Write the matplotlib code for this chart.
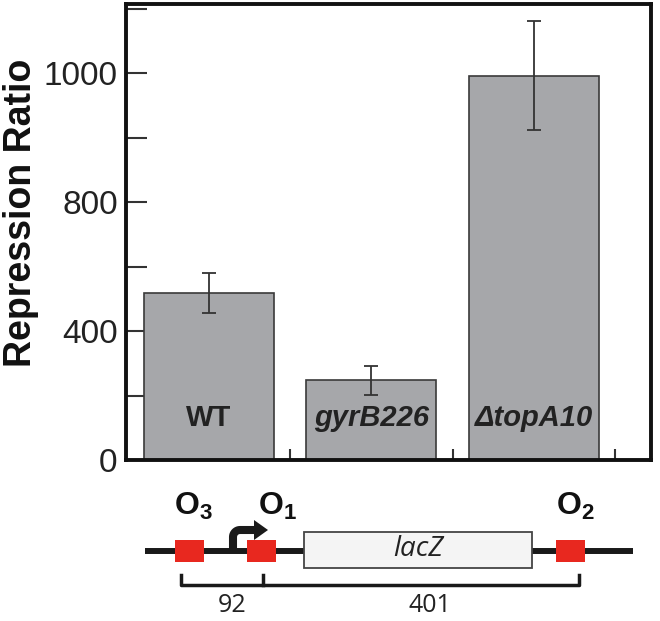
import matplotlib.pyplot as plt
import numpy as np
from matplotlib.patches import Rectangle, Polygon
from matplotlib.path import Path
from matplotlib.patches import PathPatch
import matplotlib.transforms as mtransforms

plt.rcParams['font.family'] = 'Liberation Sans'
plt.rcParams['mathtext.fontset'] = 'custom'
plt.rcParams['mathtext.rm'] = 'Liberation Sans'
plt.rcParams['mathtext.bf'] = 'Liberation Sans:bold'
plt.rcParams['mathtext.it'] = 'Liberation Sans:italic'

strains = ['WT', 'gyrB226', r'ΔtopA10']
ratio = [519, 248, 996]
ratio_err = [62, 45, 84]
tick_vals = [0, 200, 400, 600, 800, 900, 1000, 1100]
tick_labels = ['0', '', '400', '', '800', '', '1000', '']
operators = [r'$\mathbf{O_3}$', r'$\mathbf{O_1}$', r'$\mathbf{O_2}$']
spacings = ['92', '401']

# the y axis of the original is piecewise: 200 per tick up to 800, then 100 per tick
def fwd(v):
    v = np.asarray(v, dtype=float)
    return np.where(v <= 800, v / 200.0, 4 + (v - 800) / 100.0)

def inv(k):
    k = np.asarray(k, dtype=float)
    return np.where(k <= 4, k * 200.0, 800 + (k - 4) * 100.0)

fig = plt.figure(figsize=(6.6, 6.21), dpi=100)
ax = fig.add_axes([126/660, 1 - 460/621, (651-126)/660, (460-4)/621])
ax.set_yscale('function', functions=(fwd, inv))

x = np.arange(len(strains))
ax.bar(x, ratio, width=0.8, color='#a6a7aa', edgecolor='#3a3a3a', linewidth=1.2, zorder=2)
ax.errorbar(x, ratio, yerr=ratio_err, fmt='none', ecolor='#333333', elinewidth=1.3,
            capsize=5, capthick=1.3, zorder=3)

ax.set_xlim(-0.51, 2.72)
ax.set_ylim(0, 1107)
ax.set_yticks(tick_vals)
ax.set_yticklabels(tick_labels)
ax.set_xticks([0.5, 1.5, 2.5])
ax.set_xticklabels([])
ax.tick_params(axis='y', direction='in', length=15, width=1.5, color='#333333',
               labelsize=24, labelcolor='#222222', pad=6)
ax.tick_params(axis='x', direction='in', length=8, width=1.5, color='#333333')
ax.yaxis.set_minor_locator(plt.NullLocator())
for s in ax.spines.values():
    s.set_linewidth(2.8)
    s.set_color('#111111')

trans = mtransforms.blended_transform_factory(ax.transData, ax.transAxes)
for i, name in enumerate(strains):
    style = 'normal' if i == 0 else 'italic'
    ax.text(x[i], 0.092, name, transform=trans, ha='center', va='center',
            fontsize=21, fontweight='bold', style=style, color='#222222', zorder=4)

fig.text(21/660, 1 - 213/621, 'Repression Ratio', rotation=90, ha='center', va='center',
         fontsize=27, fontweight='bold', color='#111111')

# lac operon schematic underneath, drawn in pixel coordinates
d = fig.add_axes([0, 0, 1, 1], zorder=-1)
d.set_xlim(0, 660)
d.set_ylim(621, 0)
d.axis('off')
d.plot([145, 633], [551, 551], color='#1a1a1a', lw=4.3, solid_capstyle='butt', zorder=1)
d.add_patch(Rectangle((304, 532), 228, 36, facecolor='#f4f4f4', edgecolor='#444444', lw=1.3, zorder=2))
d.text(418, 549, 'lacZ', ha='center', va='center', fontsize=20, style='italic',
       family='Open Sans', color='#222222')
op_left = [175, 247, 556]
for ox in op_left:
    d.add_patch(Rectangle((ox, 540), 29, 22, facecolor='#e8281f', edgecolor='none', zorder=3))
label_x = [174, 258, 556]
for lx, lab in zip(label_x, operators):
    d.text(lx, 515, lab, ha='left', va='baseline', fontsize=23, color='#111111')

# bent promoter arrow
t = np.linspace(np.pi, np.pi / 2, 10)
arc = np.column_stack([240 + 7 * np.cos(t), 537 - 7 * np.sin(t)])
verts = np.vstack([[233, 551], [233, 537], arc, [256, 530]])
d.add_patch(PathPatch(Path(verts), facecolor='none', edgecolor='#1a1a1a', lw=5.8,
                      capstyle='butt', joinstyle='round', zorder=2))
d.add_patch(Polygon([[254, 520], [268, 530], [254, 540]], closed=True,
                    facecolor='#1a1a1a', edgecolor='none', zorder=2))

# brackets
d.plot([181, 181, 579, 579], [575, 585, 585, 575], color='#1a1a1a', lw=2.5, zorder=1)
d.plot([263, 263], [575, 585], color='#1a1a1a', lw=2.5, zorder=1)
d.text(232, 606, spacings[0], ha='center', va='center', fontsize=18, family='Open Sans', color='#222222')
d.text(430, 606, spacings[1], ha='center', va='center', fontsize=18, family='Open Sans', color='#222222')

fig.savefig('out.png', dpi=100)
